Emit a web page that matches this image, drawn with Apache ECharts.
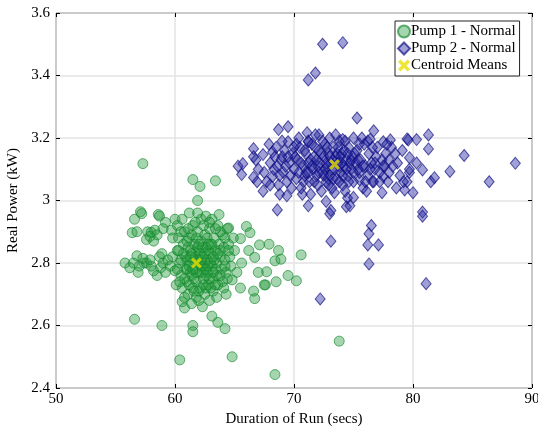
<!DOCTYPE html>
<html lang="en">
<head>
	<meta charset="utf-8">
	<title>Pump clusters</title>
	<script src="https://cdn.jsdelivr.net/npm/echarts@6/dist/echarts.min.js"></script>
	<style>
		body { margin: 0; background: #fff; }
		#main { width: 538px; height: 426px; }
	</style>
</head>
<body>
	<div id="main"></div>
	<script type="text/javascript">
		// axis ticks
		var xTicks = [50, 60, 70, 80, 90];
		var yTicks = [2.4, 2.6, 2.8, 3.0, 3.2, 3.4, 3.6];

		// pump 1 - normal (duration secs, real power kW)
		var pump1 = [
			[57.3,3.118],[61.5,3.067],[62.1,3.045],[63.4,3.063],[61.9,3.0],[63.7,2.955],
			[56.6,2.62],[58.9,2.60],[61.5,2.60],[61.5,2.58],[60.4,2.49],[63.1,2.63],[63.6,2.61],[64.2,2.59],[64.8,2.50],
			[64.3,2.70],[65.5,2.72],[66.6,2.71],[66.7,2.686],[67.6,2.73],[67.9,2.86],[60.6,2.676],[60.8,2.656],
			[68.7,2.84],[68.4,2.807],[68.9,2.812],[70.6,2.826],[69.5,2.76],[68.5,2.74],[70.2,2.743],[73.8,2.55],[68.4,2.443],
			[67.1,2.858],[67.7,2.772],[67.0,2.77],[67.5,2.73],[66.0,2.917],[65.5,2.878],[66.3,2.897],[64.5,2.912],
			[66.2,2.84],[66.7,2.818],[65.6,2.80],[65.2,2.77],[64.8,2.746],
			[57.1,2.964],[57.2,2.958],[56.6,2.94],[58.6,2.955],[58.7,2.95],[59.2,2.93],[56.4,2.897],[57.7,2.90],
			[58.0,2.898],[57.6,2.875],[58.3,2.905],[56.8,2.90],[59.7,2.905],[59.8,2.88],[58.5,2.89],[57.9,2.885],
			[59.0,2.91],[58.2,2.87],[60.2,2.92],[60.0,2.94],
			[55.8,2.80],[56.2,2.785],[56.8,2.823],[57.4,2.80],[57.6,2.80],[58.0,2.79],[58.5,2.76],[58.8,2.785],
			[59.0,2.80],[58.7,2.82],[59.4,2.81],[59.6,2.79],[57.0,2.79],[57.9,2.81],[56.5,2.80],[58.2,2.775],
			[59.2,2.77],[59.8,2.82],[60.0,2.775],[57.3,2.815],[58.9,2.83],[56.9,2.77],
			[60.2,2.84],[60.4,2.80],[60.5,2.76],[60.6,2.72],[60.7,2.86],[60.8,2.90],[60.9,2.82],[61.0,2.78],
			[61.0,2.74],[61.1,2.70],[61.2,2.88],[61.3,2.84],[61.3,2.80],[61.4,2.76],[61.5,2.72],[61.5,2.92],
			[61.6,2.86],[61.7,2.82],[61.7,2.78],[61.8,2.74],[61.8,2.69],[61.9,2.90],[62.0,2.84],[62.0,2.80],
			[62.1,2.77],[62.1,2.72],[62.2,2.94],[62.2,2.87],[62.3,2.82],[62.4,2.79],[62.4,2.75],[62.5,2.70],
			[62.5,2.89],[62.6,2.85],[62.7,2.81],[62.7,2.77],[62.8,2.73],[62.9,2.91],[63.0,2.86],[63.0,2.83],
			[63.1,2.79],[63.2,2.75],[63.2,2.71],[63.3,2.88],[63.4,2.84],[63.5,2.80],[63.5,2.76],[63.6,2.92],
			[63.7,2.86],[63.8,2.82],[63.9,2.78],[64.0,2.74],[64.0,2.89],[64.1,2.85],[64.2,2.81],[64.3,2.77],
			[64.4,2.91],[64.5,2.86],[64.6,2.82],[64.7,2.79],[64.9,2.88],[65.0,2.84],[60.3,2.88],[60.1,2.73],
			[60.6,2.94],[61.2,2.96],[61.9,2.96],[62.6,2.95],[63.1,2.94],[60.8,2.69],[61.4,2.67],[62.3,2.66],
			[62.9,2.68],[63.5,2.69],[64.1,2.72],[61.6,2.81],[62.2,2.79],[62.5,2.83],[61.9,2.85],[62.8,2.79],
			[61.3,2.77],[63.3,2.81],[60.9,2.78],[62.4,2.73],[63.8,2.84],[64.4,2.75],[60.5,2.81],[61.1,2.85],
			[62.0,2.71],[62.9,2.75],[63.6,2.73],
			[61.0,2.81],[61.2,2.79],[61.4,2.83],[61.6,2.75],[61.8,2.77],[61.9,2.81],[62.1,2.83],[62.3,2.77],
			[62.5,2.80],[62.6,2.76],[62.8,2.84],[63.0,2.80],[63.2,2.82],[63.4,2.78],[63.1,2.86],[62.7,2.88],
			[62.3,2.85],[61.8,2.88],[61.4,2.89],[61.0,2.87],[60.7,2.83],[60.8,2.75],[61.2,2.73],[61.6,2.71],
			[62.0,2.68],[62.6,2.72],[63.0,2.72],[63.4,2.73],[63.8,2.76],[64.2,2.79],[64.5,2.84],[64.2,2.88],
			[63.8,2.90],[63.4,2.91],[62.9,2.93],[62.4,2.92],[61.7,2.93],[61.1,2.91],[60.5,2.90],[60.3,2.84],
			[60.2,2.78],[60.4,2.74],[62.2,2.81],[62.6,2.78],[61.5,2.78],[63.6,2.83],[62.0,2.86],[62.8,2.86],
			[61.3,2.82],[63.2,2.77]
		];

		// pump 2 - normal
		var pump2 = [
			[72.4,3.50],[74.1,3.505],[71.2,3.386],[71.8,3.408],[75.3,3.264],[69.5,3.236],[68.7,3.227],[71.1,3.217],
			[76.7,3.223],[81.3,3.21],[81.3,3.165],[79.5,3.197],[80.3,3.195],[84.3,3.144],[88.6,3.119],[86.4,3.06],
			[83.1,3.093],[81.5,3.06],[81.8,3.073],[80.8,3.098],[80.3,3.12],[79.5,3.06],[79.3,3.034],[77.4,3.025],
			[74.5,3.008],[74.4,2.98],[73.1,2.968],[71.2,2.983],[68.6,2.97],[80.8,2.963],[73.0,2.958],[80.8,2.95],
			[76.5,2.92],[76.3,2.894],[73.1,2.87],[76.2,2.858],[77.1,2.858],[76.3,2.797],[81.1,2.734],[72.2,2.685],
			[67.4,3.03],[68.8,3.02],[69.4,3.015],[71.4,3.02],[72.7,2.997],[73.4,3.025],[74.7,2.983],[75.0,3.01],
			[79.2,3.06],[80.0,3.025],[79.7,3.09],
			[66.6,3.166],[65.7,3.118],[65.3,3.11],[65.6,3.083],[66.6,3.14],[67.4,3.147],[66.8,3.13],[67.0,3.10],
			[66.6,3.074],[66.9,3.06],[67.5,3.09],[68.2,3.155],[68.4,3.14],[68.2,3.077],[69.5,3.188],[70.2,3.18],
			[71.2,3.188],[72.1,3.21],[73.0,3.20],[74.1,3.195],
			[79.6,3.194],[77.5,3.188],[78.1,3.194],[76.4,3.196],[75.0,3.20],[78.2,3.17],[79.1,3.16],[79.7,3.137],
			[78.7,3.12],[77.6,3.11],[77.5,3.077],[76.8,3.10],[76.6,3.06],[75.5,3.067],[79.7,3.10],[78.0,3.09],[78.9,3.08],
			[68.0,3.12],[68.3,3.10],[68.5,3.17],[68.7,3.05],[68.9,3.13],[69.1,3.09],[69.2,3.16],[69.4,3.06],
			[69.6,3.12],[69.8,3.04],[69.9,3.15],[70.0,3.10],[70.2,3.07],[70.3,3.13],[70.5,3.17],[70.6,3.04],
			[70.8,3.11],[70.9,3.08],[71.0,3.15],[71.2,3.12],[71.3,3.06],[71.5,3.18],[71.6,3.10],[71.7,3.14],
			[71.9,3.08],[72.0,3.05],[72.1,3.16],[72.2,3.12],[72.4,3.09],[72.5,3.14],[72.6,3.18],[72.7,3.06],
			[72.8,3.11],[72.9,3.15],[73.0,3.08],[73.1,3.12],[73.2,3.04],[73.3,3.17],[73.4,3.10],[73.5,3.14],
			[73.6,3.07],[73.7,3.12],[73.8,3.19],[73.9,3.09],[74.0,3.15],[74.1,3.05],[74.2,3.11],[74.4,3.13],
			[74.5,3.08],[74.6,3.17],[74.8,3.10],[74.9,3.14],[75.0,3.06],[75.2,3.12],[75.3,3.16],[75.5,3.09],
			[75.6,3.13],[75.8,3.04],[75.9,3.18],[76.0,3.11],[76.2,3.08],[76.3,3.15],[76.5,3.12],[76.7,3.06],
			[76.9,3.14],[77.0,3.17],[77.2,3.09],[77.4,3.13],[77.7,3.15],[78.0,3.13],[78.3,3.11],[78.5,3.15],
			[70.4,3.20],[71.8,3.21],[73.5,3.21],[75.7,3.20],[69.0,3.19],[72.3,3.03],[74.3,3.03],[76.1,3.03],
			[70.7,3.02],[71.4,3.13],[72.6,3.10],[73.3,3.13],[74.7,3.12],[73.8,3.11],[72.0,3.11],[74.2,3.16],
			[72.9,3.07],[75.4,3.10],[71.0,3.09],[69.3,3.11],[70.1,3.14],[77.9,3.06],[78.6,3.04],[67.7,3.06],
			[67.9,3.18],[68.0,3.05],
			[71.5,3.11],[71.9,3.13],[72.3,3.15],[72.7,3.12],[73.2,3.10],[73.6,3.15],[74.0,3.12],[74.4,3.10],
			[74.8,3.13],[73.9,3.14],[73.0,3.14],[72.5,3.08],[73.3,3.07],[74.1,3.08],[72.1,3.09],[71.2,3.09],
			[70.6,3.12],[70.4,3.09],[70.9,3.16],[71.8,3.17],[72.8,3.17],[73.7,3.17],[74.5,3.15],[75.1,3.15],
			[75.4,3.13],[75.8,3.11],[76.4,3.10],[76.8,3.12],[75.0,3.09],[74.6,3.06],[73.8,3.06],[72.9,3.05],
			[71.7,3.06],[70.8,3.06],[69.7,3.08],[69.5,3.14],[70.0,3.17],[71.2,3.19],[72.4,3.19],[74.3,3.19],
			[75.5,3.18],[76.6,3.17],[77.5,3.11],[77.2,3.06],[76.0,3.06],[68.6,3.11],[68.8,3.08],[69.0,3.14],
			[77.8,3.18],[76.2,3.19]
		];

		// cluster centroid means
		var centroids = [[61.8, 2.80], [73.4, 3.115]];

		var serif = 'Liberation Serif';
		var xMark = 'path://M0,2 L2,0 L5,3 L8,0 L10,2 L7,5 L10,8 L8,10 L5,7 L2,10 L0,8 L3,5 Z';

		var myChart = echarts.init(document.getElementById('main'));

		var option = {
			animation: false,
			backgroundColor: '#fff',
			textStyle: { fontFamily: serif },
			grid: {
				left: 56, right: 6, top: 13, bottom: 38,
				outerBoundsMode: 'none',
				containLabel: false,
				show: true, borderColor: '#000', borderWidth: 1
			},
			legend: {
				orient: 'vertical',
				left: 395, top: 21,
				width: 128,
				padding: [3, 4, 3, 2],
				itemGap: 2,
				itemWidth: 12, itemHeight: 12,
				backgroundColor: '#fff',
				borderColor: '#222', borderWidth: 1,
				textStyle: { fontFamily: serif, fontSize: 15, color: '#000', padding: [0, 0, 0, -4] },
				data: [
					{ name: 'Pump 1 - Normal', icon: 'circle' },
					{ name: 'Pump 2 - Normal', icon: 'diamond' },
					{ name: 'Centroid Means', icon: xMark }
				]
			},
			xAxis: [
				{
					type: 'value', min: 50, max: 90, interval: 10,
					name: 'Duration of Run (secs)', nameLocation: 'middle', nameGap: 18,
					nameTextStyle: { fontFamily: serif, fontSize: 15, color: '#000' },
					axisLine: { show: false },
					axisTick: { inside: true, length: 4, lineStyle: { color: '#000' } },
					axisLabel: { fontFamily: serif, fontSize: 15, color: '#000', margin: 4,
						formatter: function (v) { return xTicks.indexOf(v) >= 0 ? String(v) : ''; } },
					splitLine: { lineStyle: { color: '#e3e3e3', width: 1.5 } }
				},
				{
					type: 'value', position: 'top', min: 50, max: 90, interval: 10,
					axisLine: { show: false }, axisLabel: { show: false },
					axisTick: { inside: true, length: 4, lineStyle: { color: '#000' } },
					splitLine: { show: false }
				}
			],
			yAxis: [
				{
					type: 'value', min: 2.4, max: 3.6, interval: 0.2,
					name: 'Real Power (kW)', nameLocation: 'middle', nameGap: 30,
					nameTextStyle: { fontFamily: serif, fontSize: 15, color: '#000' },
					axisLine: { show: false },
					axisTick: { inside: true, length: 4, lineStyle: { color: '#000' } },
					axisLabel: { fontFamily: serif, fontSize: 15, color: '#000', margin: 6,
						formatter: function (v) {
							var r = Math.round(v * 10) / 10;
							return yTicks.indexOf(r) >= 0 ? String(r) : '';
						} },
					splitLine: { lineStyle: { color: '#e3e3e3', width: 1.5 } }
				},
				{
					type: 'value', position: 'right', min: 2.4, max: 3.6, interval: 0.2,
					axisLine: { show: false }, axisLabel: { show: false },
					axisTick: { inside: true, length: 4, lineStyle: { color: '#000' } },
					splitLine: { show: false }
				}
			],
			series: [
				{
					name: 'Pump 1 - Normal',
					type: 'scatter',
					symbol: 'circle',
					symbolSize: 10,
					data: pump1,
					itemStyle: {
						color: 'rgba(35,155,60,0.52)',
						borderColor: 'rgba(15,135,40,0.8)',
						borderWidth: 1
					},
					z: 2
				},
				{
					name: 'Pump 2 - Normal',
					type: 'scatter',
					symbol: 'diamond',
					symbolSize: [10, 12],
					data: pump2,
					itemStyle: {
						color: 'rgba(35,35,160,0.54)',
						borderColor: 'rgba(15,15,130,0.85)',
						borderWidth: 1
					},
					z: 3
				},
				{
					name: 'Centroid Means',
					type: 'scatter',
					symbol: xMark,
					symbolSize: 11,
					data: centroids,
					itemStyle: { color: '#e8e000' },
					z: 5
				}
			]
		};

		myChart.setOption(option);
	</script>
</body>
</html>
